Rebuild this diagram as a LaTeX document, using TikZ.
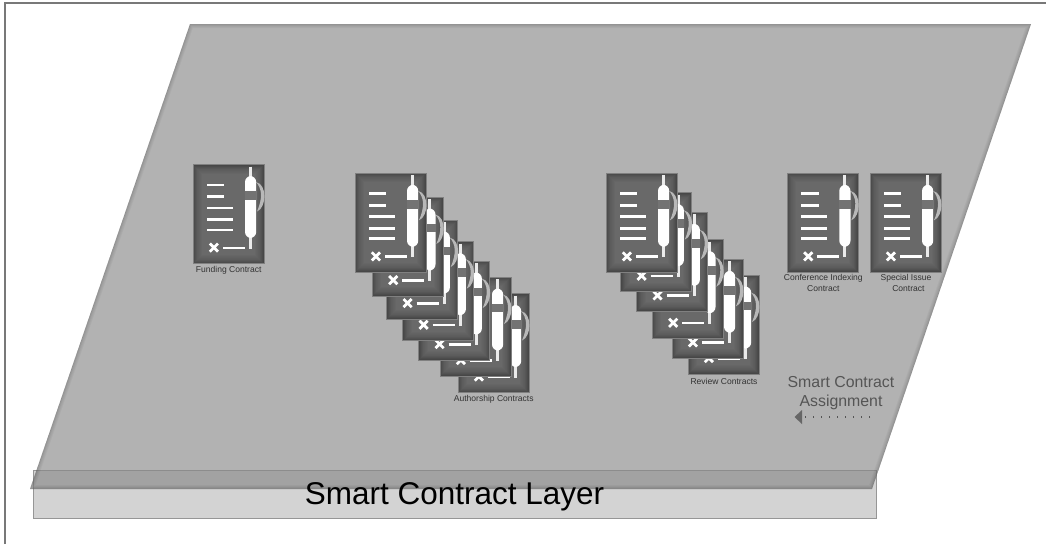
\documentclass[tikz,border=0pt]{standalone}
\usepackage{fontspec}
\setmainfont{Liberation Sans}
\usetikzlibrary{arrows.meta}
\definecolor{framegray}{RGB}{120,120,120}
\definecolor{layerfill}{RGB}{135,135,135}
\definecolor{barfill}{RGB}{211,211,211}
\definecolor{barline}{RGB}{150,150,150}
\definecolor{labelgray}{RGB}{85,85,85}
\definecolor{smallgray}{RGB}{50,50,50}
\tikzset{
  px/.style={x=0.75pt,y=-0.75pt},
  ink/.style={draw=white,line width=1.8pt,line cap=butt},
  smalllabel/.style={font=\fontsize{6.4}{8.1}\selectfont,text=smallgray,align=center,inner sep=0pt},
  contract/.pic={
    \fill[black!72] (0,0) rectangle (71,99);
    \foreach \i/\c in {1/70,2/68,3/66,4/64,5/63,6/62,7/61,8/60,9/59}
      \fill[black!\c] (\i,\i) rectangle (71-\i,99-\i);
    \draw[black!50,line width=0.4pt] (0,0) rectangle (71,99);
    \foreach \yy/\xx in {20.3/31.3,32/31.3,43.3/40,55/40,65.3/40}
      \draw[ink] (14,\yy) -- (\xx,\yy);
    \draw[ink,line width=2.1pt] (16.8,79) -- (25,87.2) (25,79) -- (16.8,87.2);
    \draw[ink] (30,83.3) -- (52,83.3);
    \draw[white!92!black,line width=2.2pt] (57.5,2) -- (57.5,14);
    \draw[white!92!black,line width=2.2pt] (57.5,70) -- (57.5,84);
    \fill[white!72!black] (63,17.5) .. controls (69,19) and (71.4,25) .. (71.4,32)
       .. controls (71.4,38) and (69,45) .. (64,47)
       .. controls (67,40) and (68,35) .. (68,30) .. controls (68,25) and (65.5,20) .. (63,17.5) -- cycle;
    \fill[white,rounded corners=4.6pt] (52,11.5) rectangle (63.2,73.5);
    \fill[black!55] (52,26.7) rectangle (63.2,35.2);
  }
}
\newcommand{\contractat}[3]{\pic at (#2,#3) {contract};\coordinate (#1) at (#2+35.5,#3+49.5);}
\begin{document}
\begin{tikzpicture}[px]
\useasboundingbox (0,0) rectangle (1046,544);
\fill[white] (0,0) rectangle (1046,544);
\draw[framegray,line width=1pt] (5,544) -- (5,3) -- (1046,3);
% bar
\node[draw=barline,fill=barfill,line width=0.7pt,minimum width=632.25pt,minimum height=36pt,inner sep=0pt] (bar) at (454.5,494) {};
% layer
\path[fill=layerfill,fill opacity=0.64] (190,24) coordinate (lt) -- (1031,24) coordinate (rt) -- (872,489) coordinate (rb) -- (30,489) coordinate (lb) -- cycle;
\begin{scope}
\clip (lt) -- (rt) -- (rb) -- (lb) -- cycle;
\foreach \w in {1,2,3,4.5,6}
  \draw[black,opacity=0.035,line width=\w pt] (lt) -- (rt) -- (rb) -- (lb) -- cycle;
\end{scope}
\node[font=\fontsize{23.6}{26}\selectfont,text=black,inner sep=0pt,anchor=base] (title) at (454.5,504) {Smart Contract Layer};
% funding
\contractat{funding}{193}{164.5}
\node[smalllabel] (fundinglabel) at (228.7,270) {Funding Contract};
% authorship
\contractat{a7}{458}{293.5}
\contractat{a6}{440}{277}
\contractat{a5}{418.7}{261}
\contractat{a4}{402.7}{241.7}
\contractat{a3}{386.7}{220}
\contractat{a2}{372.3}{197}
\contractat{a1}{355}{173.3}
\node[smalllabel] (authlabel) at (493.7,399) {Authorship Contracts};
% review
\contractat{r6}{688}{275}
\contractat{r5}{672}{259.3}
\contractat{r4}{652.3}{239.7}
\contractat{r3}{636.7}{212.3}
\contractat{r2}{620.7}{192.7}
\contractat{r1}{606}{173.3}
\node[smalllabel] (revlabel) at (724,381.7) {Review Contracts};
% others
\contractat{conf}{787.3}{173.3}
\contractat{spec}{870}{173.3}
\node[smalllabel,anchor=north] (conflabel) at (823.3,274) {Conference Indexing\\Contract};
\node[smalllabel,anchor=north] (speclabel) at (906,274) {Special Issue\\\ \ Contract};
% assignment
\node[font=\fontsize{11.9}{14.2}\selectfont,text=labelgray,align=center,inner sep=0pt] (assign) at (841,393.5) {Smart Contract\\Assignment};
\coordinate (arrowstart) at (870,417);
\coordinate (arrowend) at (794.5,417);
\draw[labelgray,line width=1pt,dash pattern=on 1pt off 5pt] (arrowstart) -- (802,417);
\fill[black!60] (arrowend) -- (802,410) -- (802,424) -- cycle;
\end{tikzpicture}
\end{document}
